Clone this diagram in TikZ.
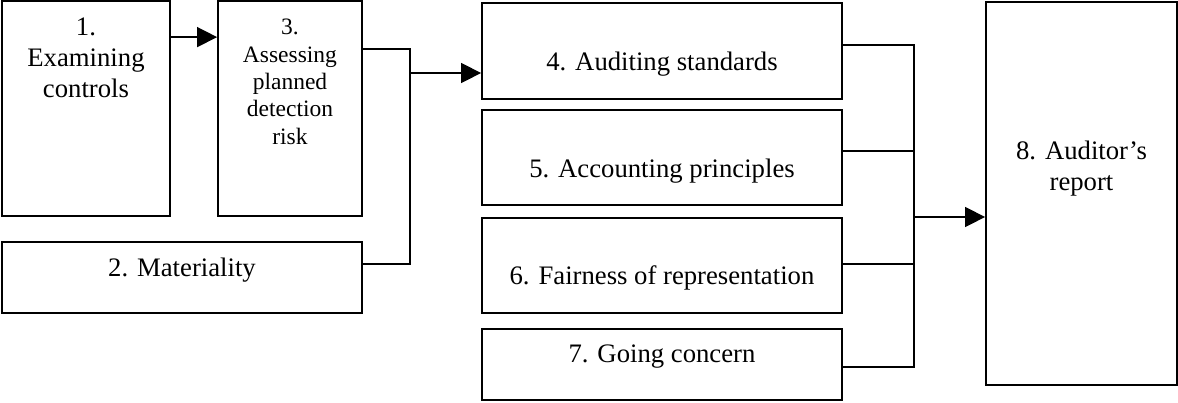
\documentclass[tikz,border=0pt]{standalone}
\usepackage{fontspec}
\setmainfont{Liberation Serif}
\usetikzlibrary{arrows.meta,calc}
\begin{document}
\begin{tikzpicture}[x=1bp,y=-1bp,
  box/.style={draw, line width=1.8bp, inner sep=0pt},
  txt/.style={font=\fontsize{26.7bp}{31bp}\selectfont, align=center, inner sep=0pt, anchor=base},
  smalltxt/.style={font=\fontsize{23.5bp}{27.3bp}\selectfont, align=center, inner sep=0pt, anchor=base},
  conn/.style={line width=1.5bp},
  arr/.style={line width=1.5bp, -{Triangle[length=20bp,width=20bp]}}]
\useasboundingbox (0,0) rectangle (1178,402);
% boxes
\node[box, minimum width=168bp, minimum height=215bp] (b1) at (86,108.5) {};
\node[box, minimum width=144bp, minimum height=215bp] (b3) at (290,108.5) {};
\node[box, minimum width=360bp, minimum height=71bp] (b2) at (182,277.5) {};
\node[box, minimum width=360bp, minimum height=96bp] (b4) at (662,51) {};
\node[box, minimum width=360bp, minimum height=95bp] (b5) at (662,157.5) {};
\node[box, minimum width=360bp, minimum height=95bp] (b6) at (662,265.5) {};
\node[box, minimum width=360bp, minimum height=71bp] (b7) at (662,364.5) {};
\node[box, minimum width=191bp, minimum height=383bp] (b8) at (1081.5,193.5) {};
% texts (base = baseline of last line)
\node[txt] (t1) at ([yshift=-97bp]b1.north) {1.\\Examining\\controls};
\node[smalltxt] (t3) at ([yshift=-144bp]b3.north) {3.\\Assessing\\planned\\detection\\risk};
\node[txt] (t2) at ([yshift=-35bp]b2.north) {2. Materiality};
\node[txt] (t4) at ([yshift=-68bp]b4.north) {4. Auditing standards};
\node[txt] (t5) at ([yshift=-68bp]b5.north) {5. Accounting principles};
\node[txt] (t6) at ([yshift=-67bp]b6.north) {6. Fairness of representation};
\node[txt] (t7) at ([yshift=-34bp]b7.north) {7. Going concern};
\node[txt] (t8) at ([yshift=-189bp]b8.north) {8. Auditor’s\\report};
% junctions
\coordinate (jL) at (410,73);
\coordinate (jR) at (914,217);
% connectors
\draw[arr] ([yshift=-37bp]b1.north east) -- ([yshift=-37bp]b3.north west);
\draw[conn] ([yshift=-49bp]b3.north east) -| (jL) |- ([yshift=-23bp]b2.north east);
\draw[arr] (jL) -- (jL -| b4.west);
\draw[conn] ([yshift=-43bp]b4.north east) -| (jR) |- ([yshift=-39bp]b7.north east);
\draw[conn] ([yshift=-42bp]b5.north east) -- ([yshift=-42bp]b5.north east -| jR);
\draw[conn] ([yshift=-47bp]b6.north east) -- ([yshift=-47bp]b6.north east -| jR);
\draw[arr] (jR) -- (jR -| b8.west);
\end{tikzpicture}
\end{document}
